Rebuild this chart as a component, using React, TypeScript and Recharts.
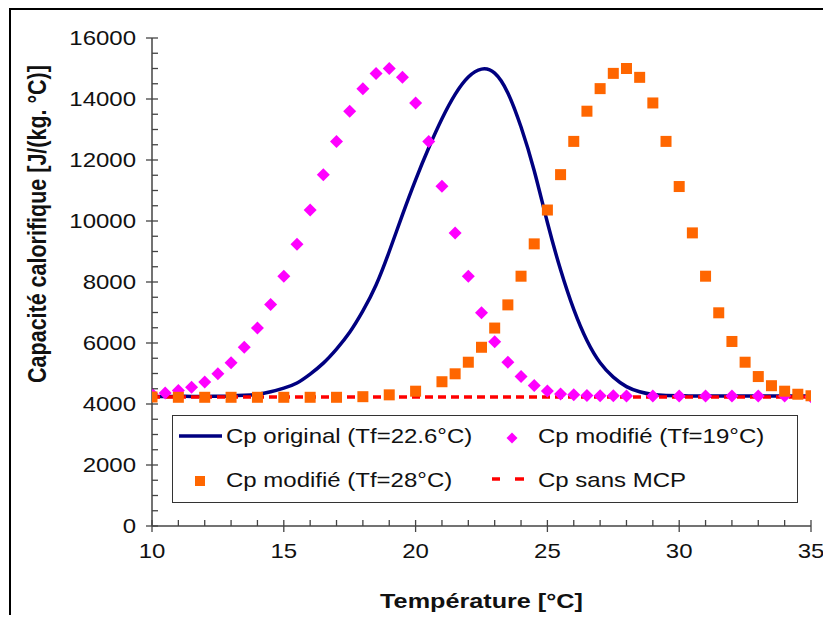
import React from 'react';
import { ComposedChart, Line, Scatter, XAxis, YAxis, Legend } from 'recharts';

const FONT = '"Liberation Sans", Arial, Helvetica, sans-serif';
const NAVY = '#000080';
const MAGENTA = '#FF00FF';
const ORANGE = '#FF6600';
const RED = '#FF0000';
const AXIS = '#444444';
const STRETCH = 1.2;

const NAME_ORIG = 'Cp original (Tf=22.6°C)';
const NAME_19 = 'Cp modifié (Tf=19°C)';
const NAME_28 = 'Cp modifié (Tf=28°C)';
const NAME_SANS = 'Cp sans MCP';

// Cp original (Tf = 22.6 °C) — continuous curve
const originalT = [10, 10.5, 11, 11.5, 12, 12.5, 13, 13.5, 14, 14.5, 15, 15.5, 16, 16.5, 17, 17.5, 18, 18.5, 19, 19.5, 20, 20.5, 21, 21.5, 22, 22.5, 23, 23.5, 24, 24.5, 25, 25.5, 26, 26.5, 27, 27.5, 28, 28.5, 29, 29.5, 30, 30.5, 31, 31.5, 32, 32.5, 33, 33.5, 34, 34.5, 35];
const originalCp = [4250, 4250, 4250, 4250, 4250, 4255, 4265, 4285, 4320, 4400, 4520, 4690, 4980, 5340, 5800, 6350, 7050, 7900, 9000, 10200, 11350, 12400, 13350, 14150, 14720, 14980, 14850, 14200, 13080, 11650, 9950, 8400, 7100, 6080, 5350, 4880, 4570, 4400, 4310, 4280, 4270, 4260, 4260, 4260, 4260, 4260, 4260, 4260, 4260, 4260, 4260];

// Cp modifié (Tf = 19 °C) — diamonds
const tf19T = [10, 10.5, 11, 11.5, 12, 12.5, 13, 13.5, 14, 14.5, 15, 15.5, 16, 16.5, 17, 17.5, 18, 18.5, 19, 19.5, 20, 20.5, 21, 21.5, 22, 22.5, 23, 23.5, 24, 24.5, 25, 25.5, 26, 26.5, 27, 27.5, 28, 29, 30, 31, 32, 33, 34, 35];
const tf19Cp = [4330, 4360, 4440, 4550, 4720, 4990, 5350, 5860, 6490, 7260, 8190, 9240, 10360, 11520, 12610, 13600, 14340, 14840, 15000, 14710, 13870, 12610, 11140, 9610, 8190, 6990, 6040, 5370, 4900, 4610, 4430, 4330, 4300, 4280, 4270, 4270, 4260, 4260, 4260, 4260, 4260, 4260, 4260, 4240];

// Cp modifié (Tf = 28 °C) — squares
const tf28T = [10, 11, 12, 13, 14, 15, 16, 17, 18, 19, 20, 21, 21.5, 22, 22.5, 23, 23.5, 24, 24.5, 25, 25.5, 26, 26.5, 27, 27.5, 28, 28.5, 29, 29.5, 30, 30.5, 31, 31.5, 32, 32.5, 33, 33.5, 34, 34.5, 35];
const tf28Cp = [4230, 4220, 4220, 4220, 4220, 4220, 4220, 4220, 4240, 4300, 4420, 4730, 4990, 5370, 5860, 6490, 7250, 8190, 9250, 10360, 11520, 12610, 13600, 14340, 14840, 15000, 14710, 13870, 12610, 11130, 9610, 8190, 6990, 6050, 5370, 4900, 4600, 4420, 4320, 4270];

// Cp sans MCP — dashed constant
const sansT = [10, 35];
const sansCp = [4230, 4230];

const xTicks = [10, 11, 12, 13, 14, 15, 16, 17, 18, 19, 20, 21, 22, 23, 24, 25, 26, 27, 28, 29, 30, 31, 32, 33, 34, 35];
const yTicks = [0, 500, 1000, 1500, 2000, 2500, 3000, 3500, 4000, 4500, 5000, 5500, 6000, 6500, 7000, 7500, 8000, 8500, 9000, 9500, 10000, 10500, 11000, 11500, 12000, 12500, 13000, 13500, 14000, 14500, 15000, 15500, 16000];

const zip = (xs: number[], ys: number[]) => xs.map((x, i) => ({ x, y: ys[i] }));
const originalData = zip(originalT, originalCp);
const tf19Data = zip(tf19T, tf19Cp);
const tf28Data = zip(tf28T, tf28Cp);
const sansData = zip(sansT, sansCp);

// Horizontally stretched text (the reference's lettering is wider than Arial)
const SText = ({ x, y, anchor = 'start', size = 20, weight = 'normal', children }: any) => (
  <text
    transform={`translate(${x} ${y}) scale(${STRETCH} 1)`}
    x={0}
    y={0}
    textAnchor={anchor}
    fontSize={size}
    fontWeight={weight}
    fontFamily={FONT}
    fill="#111"
  >
    {children}
  </text>
);

const YTick = (props: any) => {
  const { x, y, payload } = props;
  const v = payload.value;
  const major = v % 2000 === 0;
  return (
    <g>
      {major ? (
        <line x1={x - 6} x2={x + 6} y1={y} y2={y} stroke={AXIS} strokeWidth={1.3} />
      ) : (
        <line x1={x} x2={x + 6} y1={y} y2={y} stroke={AXIS} strokeWidth={1.3} />
      )}
      {major && (
        <SText x={x - 16} y={y + 7} anchor="end" size={20}>
          {v}
        </SText>
      )}
    </g>
  );
};

const XTick = (props: any) => {
  const { x, y, payload } = props;
  const v = payload.value;
  const major = v % 5 === 0;
  return (
    <g>
      {major ? (
        <line x1={x} x2={x} y1={y - 6} y2={y + 6} stroke={AXIS} strokeWidth={1.3} />
      ) : (
        <line x1={x} x2={x} y1={y - 6} y2={y} stroke={AXIS} strokeWidth={1.3} />
      )}
      {major && (
        <SText x={x} y={y + 32} anchor="middle" size={20}>
          {v}
        </SText>
      )}
    </g>
  );
};

const DiamondShape = (p: any) => {
  const { cx, cy } = p;
  const r = 6.5;
  return <polygon points={`${cx},${cy - r} ${cx + r},${cy} ${cx},${cy + r} ${cx - r},${cy}`} fill={MAGENTA} />;
};

const SquareShape = (p: any) => {
  const { cx, cy } = p;
  const s = 11;
  return <rect x={cx - s / 2} y={cy - s / 2} width={s} height={s} fill={ORANGE} />;
};

const renderYTitle = () => (
  <text
    transform={`translate(27 214) rotate(-90) scale(1 ${STRETCH})`}
    x={0}
    y={0}
    textAnchor="middle"
    dy={7}
    fontSize={21.5}
    fontWeight="bold"
    fontFamily={FONT}
    fill="#111"
  >
    Capacité calorifique [J/(kg. °C)]
  </text>
);

const renderXTitle = (props: any) => {
  const vb = props.viewBox || {};
  const cx = (vb.x ?? 141) + (vb.width ?? 659) / 2;
  return (
    <SText x={cx} y={598} anchor="middle" size={21} weight="bold">
      Température [°C]
    </SText>
  );
};

const renderLegend = () => (
  <svg width={627} height={89} style={{ display: 'block' }}>
    <rect x={0.5} y={0.5} width={625} height={87} fill="#fff" stroke="#333" strokeWidth={1} />
    <line x1={7} x2={50} y1={21} y2={21} stroke={NAVY} strokeWidth={3.5} />
    <SText x={54} y={28}>{NAME_ORIG}</SText>
    <polygon points="340,17.5 345.5,23 340,28.5 334.5,23" fill={MAGENTA} />
    <SText x={366} y={28}>{NAME_19}</SText>
    <rect x={23} y={61} width={10} height={10} fill={ORANGE} />
    <SText x={54} y={72}>{NAME_28}</SText>
    <line x1={320} x2={328} y1={64} y2={64} stroke={RED} strokeWidth={3.5} />
    <line x1={343} x2={352} y1={64} y2={64} stroke={RED} strokeWidth={3.5} />
    <SText x={366} y={72}>{NAME_SANS}</SText>
  </svg>
);

export default function App() {
  return (
    <div
      style={{
        marginLeft: 1,
        borderLeft: '2px solid #000',
        borderTop: '2px solid #000',
        width: 812,
        height: 605,
        background: '#fff',
      }}
    >
      <ComposedChart
        width={812}
        height={605}
        margin={{ top: 28, right: 12, left: 0, bottom: 0 }}
      >
        <XAxis
          dataKey="x"
          type="number"
          domain={[10, 35]}
          ticks={xTicks}
          interval={0}
          tickSize={0}
          tickMargin={0}
          tickLine={false}
          tick={<XTick />}
          axisLine={{ stroke: AXIS, strokeWidth: 1.5 }}
          height={89}
          allowDataOverflow
          label={renderXTitle}
        />
        <YAxis
          dataKey="y"
          type="number"
          domain={[0, 16000]}
          ticks={yTicks}
          interval={0}
          tickSize={0}
          tickMargin={0}
          tickLine={false}
          tick={<YTick />}
          axisLine={{ stroke: AXIS, strokeWidth: 1.5 }}
          width={141}
          allowDataOverflow
          label={renderYTitle}
        />
        <Line
          data={originalData}
          dataKey="y"
          name={NAME_ORIG}
          type="natural"
          stroke={NAVY}
          strokeWidth={3.5}
          dot={false}
          activeDot={false}
          isAnimationActive={false}
        />
        <Line
          data={sansData}
          dataKey="y"
          name={NAME_SANS}
          type="linear"
          stroke={RED}
          strokeWidth={3.5}
          strokeDasharray="8 5"
          dot={false}
          activeDot={false}
          isAnimationActive={false}
        />
        <Scatter data={tf19Data} name={NAME_19} fill={MAGENTA} shape={<DiamondShape />} isAnimationActive={false} />
        <Scatter data={tf28Data} name={NAME_28} fill={ORANGE} shape={<SquareShape />} isAnimationActive={false} />
        <Legend
          layout="vertical"
          align="center"
          verticalAlign="middle"
          content={renderLegend}
          wrapperStyle={{ position: 'absolute', left: 161, top: 405, width: 627, height: 89 }}
        />
      </ComposedChart>
    </div>
  );
}
